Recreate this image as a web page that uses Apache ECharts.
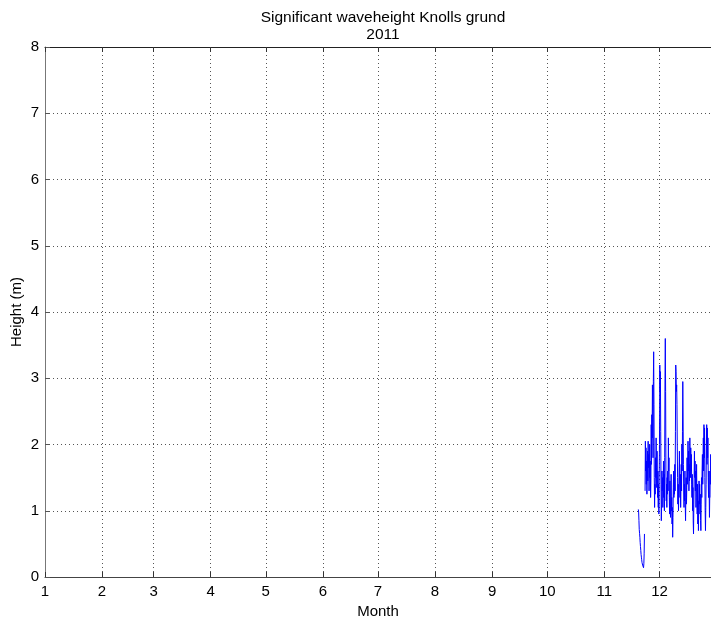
<!DOCTYPE html>
<html>
<head>
<meta charset="utf-8">
<script src="https://cdn.jsdelivr.net/npm/echarts@6/dist/echarts.min.js"></script>
<style>
  html, body { margin: 0; padding: 0; background: #fff; }
  #chart { width: 711px; height: 619px; }
</style>
</head>
<body>
<div id="chart"></div>
<script>
// Day of year (0 = 1 January) on which each month starts, and its tick label
const monthStartDays = [0, 31, 59, 90, 120, 151, 181, 212, 243, 273, 304, 334];
const monthLabels = ['1', '2', '3', '4', '5', '6', '7', '8', '9', '10', '11', '12'];
const heightTicks = [0, 1, 2, 3, 4, 5, 6, 7, 8];

// Buoy record: first sample time (day of year) and the 4-hour sampling step
const firstSampleDay = 322.5;
const sampleStepDays = 4 / 24;

// Significant wave height (m), one value per sample; null = missing data
const waveHeight = [
  1.02, 0.98, 0.85, 0.72, 0.66, 0.60, 0.52, 0.46, 0.40, 0.34, 0.30, 0.26, 0.22, 0.25, 0.18, 0.20,
  0.16, 0.14, 0.20, 0.35, 0.65, null, 1.30,
  2.05, 1.60, 1.95, 1.40, 1.75, 1.25, 1.55, 1.90, 1.45, 2.05, 1.65, 1.85, 1.30, 1.60, 2.00, 1.50,
  1.75, 1.20, 1.45, 2.30, 1.70, 2.45, 2.10, 2.90, 2.40, 1.80, 2.95, 3.40, 2.60, 1.50, 1.05, 1.40,
  1.25, 1.80, 1.50, 2.10, 1.65, 1.35, 1.90, 1.45, 1.20, 1.60, 1.05, 1.40, 0.95, 1.50, 2.00, 3.20,
  2.80, 3.10, 2.20, 1.40, 0.85, 1.10, 1.60, 1.30, 1.50, 1.05, 1.35, 1.75, 1.20, 1.55, 1.00, 1.80,
  3.00, 3.60, 2.80, 1.60, 1.15, 1.40, 1.05, 1.50, 1.25, 1.60, 1.30, 2.10, 1.60, 1.80, 1.20, 0.95,
  1.45, 1.10, 0.90, 1.30, 1.55, 1.00, 1.20, 0.80, 1.05, 0.60, 0.90, 1.35, 1.60, 1.20, 1.50, 1.25,
  1.70, 1.30, 2.20, 3.20, 3.10, 2.80, 2.90, 2.60, 2.00, 1.50, 1.10, 1.40, 1.00, 1.30, 1.60, 1.90,
  1.40, 1.20, 1.55, 1.05, 1.35, 1.70, 1.30, 2.00, 1.60, 2.20, 2.95, 2.40, 1.70, 1.30, 1.05, 1.40,
  1.15, 1.60, 1.10, 0.85, 1.20, 1.50, 1.10, 1.35, 1.80, 1.40, 1.65, 2.05, 1.60, 1.90, 1.30, 1.70,
  1.45, 2.10, 1.75, 1.50, 1.95, 1.60, 1.85, 1.40, 1.20, 1.55, 1.00, 1.35, 0.85, 0.65, 1.10, 1.50,
  1.90, 1.50, 1.75, 1.30, 1.60, 1.05, 1.35, 1.70, 1.20, 0.95, 1.40, 0.80, 1.15, 0.70, 1.05, 1.45,
  1.10, 1.40, 0.95, 1.25, 0.85, 0.70, 1.10, 1.50, 1.20, 1.60, 1.85, 1.40, 1.70, 2.10, 1.60, 2.30,
  1.80, 2.25, 1.50, 1.00, 0.70, 1.05, 1.40, 2.00, 2.30, 1.70, 2.25, 1.80, 2.10, 1.50, 1.20, 1.60,
  1.30, 0.90, 1.25, 1.60, 1.40, 1.85, 1.50, 1.20, 1.45, 1.75, 1.30, 1.60, 1.40
];

const seriesData = waveHeight.map((h, i) => [firstSampleDay + i * sampleStepDays, h]);

const FONT = '"Liberation Sans", Arial, sans-serif';
const gridLine = { show: true, lineStyle: { color: '#555', width: 1, type: [1, 3] } };

const chart = echarts.init(document.getElementById('chart'), null, { renderer: 'canvas' });
chart.setOption({
  animation: false,
  backgroundColor: '#ffffff',
  title: {
    text: 'Significant waveheight Knolls grund\n2011',
    left: 378,
    top: 4,
    textAlign: 'center',
    textStyle: { fontFamily: FONT, fontSize: 15.5, fontWeight: 'normal', color: '#000', lineHeight: 17 }
  },
  grid: { left: 45, top: 47, right: 0, bottom: 42, containLabel: false, outerBoundsMode: 'none' },
  xAxis: [
    {
      type: 'value',
      position: 'bottom',
      min: 0,
      max: 362,
      name: 'Month',
      nameLocation: 'middle',
      nameGap: 19,
      nameTextStyle: { fontFamily: FONT, fontSize: 15, color: '#000' },
      axisLine: { show: true, onZero: false, lineStyle: { color: '#444', width: 1 } },
      axisTick: { show: true, inside: true, length: 5, customValues: monthStartDays, lineStyle: { color: '#333' } },
      axisLabel: {
        customValues: monthStartDays,
        margin: 7,
        fontFamily: FONT, fontSize: 15, color: '#000',
        formatter: v => monthLabels[monthStartDays.indexOf(Math.round(v))] || ''
      },
      splitLine: gridLine
    },
    {
      type: 'value',
      position: 'top',
      min: 0,
      max: 362,
      axisLine: { show: true, onZero: false, lineStyle: { color: '#222', width: 1 } },
      axisTick: { show: true, inside: true, length: 5, customValues: monthStartDays, lineStyle: { color: '#333' } },
      axisLabel: { show: false },
      splitLine: { show: false }
    }
  ],
  yAxis: {
    type: 'value',
    min: heightTicks[0],
    max: heightTicks[heightTicks.length - 1],
    interval: 1,
    name: 'Height (m)',
    nameLocation: 'middle',
    nameGap: 21,
    nameMoveOverlap: false,
    nameTextStyle: { fontFamily: FONT, fontSize: 15, color: '#000' },
    axisLine: { show: true, onZero: false, lineStyle: { color: '#777', width: 1 } },
    axisTick: { show: true, inside: true, length: 5, lineStyle: { color: '#555' } },
    axisLabel: { margin: 6, fontFamily: FONT, fontSize: 15, color: '#000' },
    splitLine: gridLine
  },
  series: [{
    type: 'line',
    xAxisIndex: 0,
    data: seriesData,
    showSymbol: false,
    connectNulls: false,
    lineStyle: { color: '#0000ff', width: 1 },
    itemStyle: { color: '#0000ff' },
    clip: true
  }]
});
</script>
</body>
</html>
